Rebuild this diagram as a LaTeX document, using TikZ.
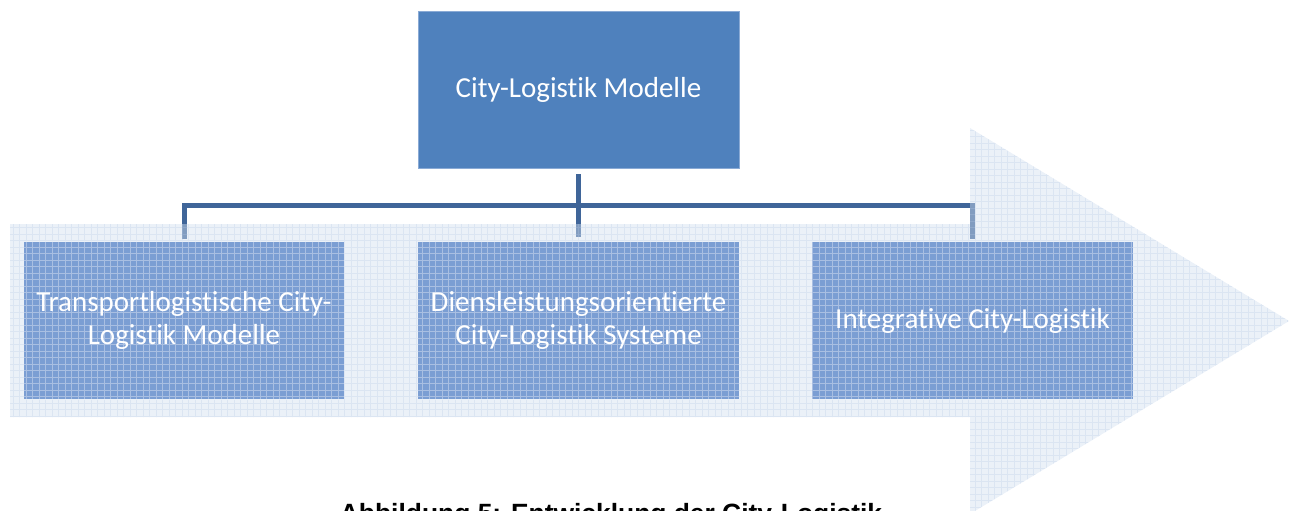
\documentclass[tikz,border=0pt]{standalone}
\usepackage{fontspec}
\setmainfont{Carlito}[Ligatures={NoCommon}]
\newfontfamily\capfont{Liberation Sans}
\definecolor{headblue}{HTML}{4F81BD}
\definecolor{headedge}{HTML}{8AAAD5}
\definecolor{subblue}{HTML}{7B9ED3}
\definecolor{linkblue}{HTML}{3F6599}
\definecolor{arrowblue}{HTML}{D2DFF0}
\definecolor{arrowgrid}{HTML}{B4C8E4}
\tikzset{
  headbox/.style={rectangle, fill=headblue, draw=headedge, line width=0.8pt,
    minimum width=321pt, minimum height=157pt, inner sep=0pt,
    text=white, align=center, font=\fontsize{29}{33}\selectfont},
  subbox/.style={rectangle, minimum width=321pt, minimum height=157pt, inner sep=0pt,
    text=white, align=center, font=\fontsize{29}{33}\selectfont},
  subfill/.style={fill=subblue},
  subgrid/.style={draw=white, draw opacity=0.35, line width=1pt},
  link/.style={draw=linkblue, line width=5pt},
  caption/.style={font=\capfont\bfseries\fontsize{26.4}{30}\selectfont, inner sep=0pt}
}
\begin{document}
\begin{tikzpicture}[x=1pt, y=-1pt]
\useasboundingbox (0,0) rectangle (1293,511);
\clip (0,0) rectangle (1293,511);

% node frames (drawn later with textured fill)
\node[headbox] (top) at (578.5,89.5) {City-Logistik Modelle};
\path (184,320.5) node[subbox, minimum width=320pt] (c1) {}
      (578.5,320.5) node[subbox] (c2) {}
      (972.5,320.5) node[subbox] (c3) {};
\coordinate (bus) at (578.5,205);

% tree connectors
\draw[link] ([yshift=-6pt]top.south) -- ([yshift=5pt]c2.north);
\draw[link, line cap=rect] ([yshift=5pt]c1.north) |- (bus) -| ([yshift=5pt]c3.north);

% large background arrow with a fine grid texture
\begin{scope}
  \clip (10,224) -- (970,224) -- (970,128) -- (1289,321) -- (970,514)
        -- (970,417) -- (10,417) -- cycle;
  \fill[arrowblue, fill opacity=0.45] (0,100) rectangle (1293,520);
  \draw[arrowgrid, draw opacity=0.28, line width=0.8pt, step=6.5pt] (0,100) grid (1293,520);
\end{scope}

% three textured sub-boxes
\foreach \b in {c1,c2,c3}{
  \begin{scope}
    \clip (\b.south west) rectangle (\b.north east);
    \fill[subfill] (\b.south west) rectangle (\b.north east);
    \draw[subgrid, step=6.5pt] ([shift={(-7,7)}]\b.south west) grid ([shift={(7,-7)}]\b.north east);
  \end{scope}
}

\node[subbox] at (c1) {Transportlogistische City-\\Logistik Modelle};
\node[subbox] at (c2) {Diensleistungsorientierte\\City-Logistik Systeme};
\node[subbox] at (c3) {Integrative City-Logistik};

\node[caption, anchor=base] (cap) at (611,522) {Abbildung 5: Entwicklung der City-Logistik};
\end{tikzpicture}
\end{document}
